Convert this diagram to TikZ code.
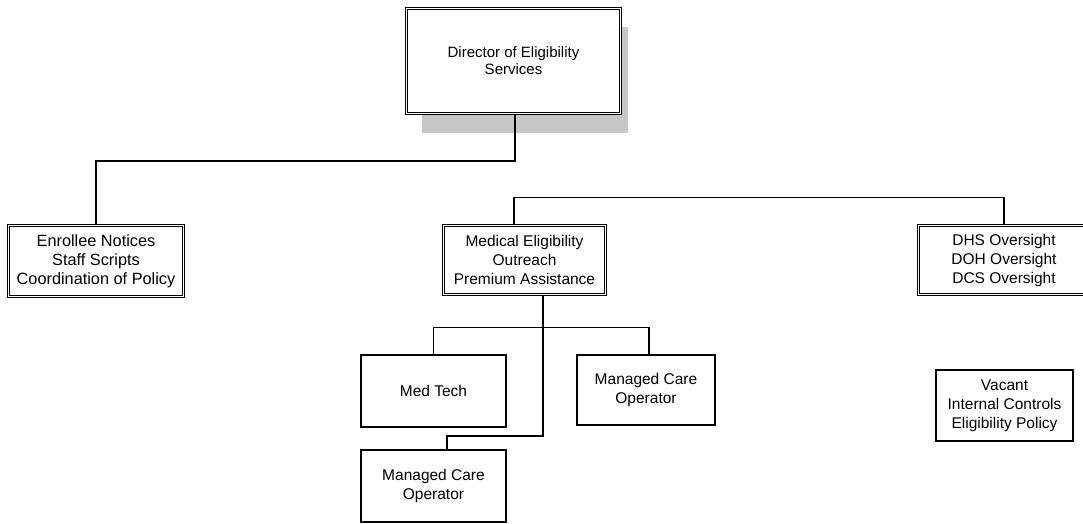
\documentclass[tikz,border=0pt]{standalone}
\usepackage{fontspec}
\setmainfont{Liberation Sans}
\begin{document}
\begin{tikzpicture}[x=1pt,y=-1pt,
  box/.style={draw, fill=white, line width=1.1pt, align=center, inner sep=0pt,
    font=\fontsize{15.5}{19}\selectfont, anchor=center},
  dbox/.style={box, double, double distance=1.6pt, line width=0.9pt},
  link/.style={line width=1.1pt}]
\useasboundingbox (0,0) rectangle (1083,524);
\clip (0,0) rectangle (1083,524);
% shadow of the top box
\fill[black!22] (422,27) rectangle (628,133);
% nodes
\node[dbox, minimum width=214pt, minimum height=105pt, font=\fontsize{15}{17}\selectfont] (dir) at (513.5,61) {Director of Eligibility\\Services};
\node[dbox, minimum width=175pt, minimum height=71pt, font=\fontsize{16.3}{19}\selectfont] (enr) at (96,261) {Enrollee Notices\\Staff Scripts\\Coordination of Policy};
\node[dbox, minimum width=162pt, minimum height=69pt] (med) at (524.5,260) {Medical Eligibility\\Outreach\\Premium Assistance};
\node[dbox, minimum width=171pt, minimum height=69pt] (dhs) at (1004,260) {DHS Oversight\\DOH Oversight\\DCS Oversight};
\node[box, minimum width=145pt, minimum height=72pt] (medtech) at (433.5,391) {Med Tech};
\node[box, minimum width=138pt, minimum height=70pt] (mcoR) at (646,390) {Managed Care\\Operator};
\node[box, minimum width=145pt, minimum height=72pt] (mcoB) at (433.5,486) {Managed Care\\Operator};
\node[box, minimum width=137pt, minimum height=71pt] (vac) at (1004.5,405.5) {Vacant\\Internal Controls\\Eligibility Policy};
% connectors
\draw[link] ([xshift=1.5pt]dir.south) -- ++(0,47) -| (enr.north);
\draw[link] ([xshift=-10.5pt]med.north) -- ++(0,-28) -| (dhs.north);
\draw[link] ([xshift=18.5pt]med.south) -- ++(0,141) -| ([xshift=13.5pt]mcoB.north);
\draw[link] (medtech.north) -- ++(0,-27) -| ([xshift=3pt]mcoR.north);
\end{tikzpicture}
\end{document}
